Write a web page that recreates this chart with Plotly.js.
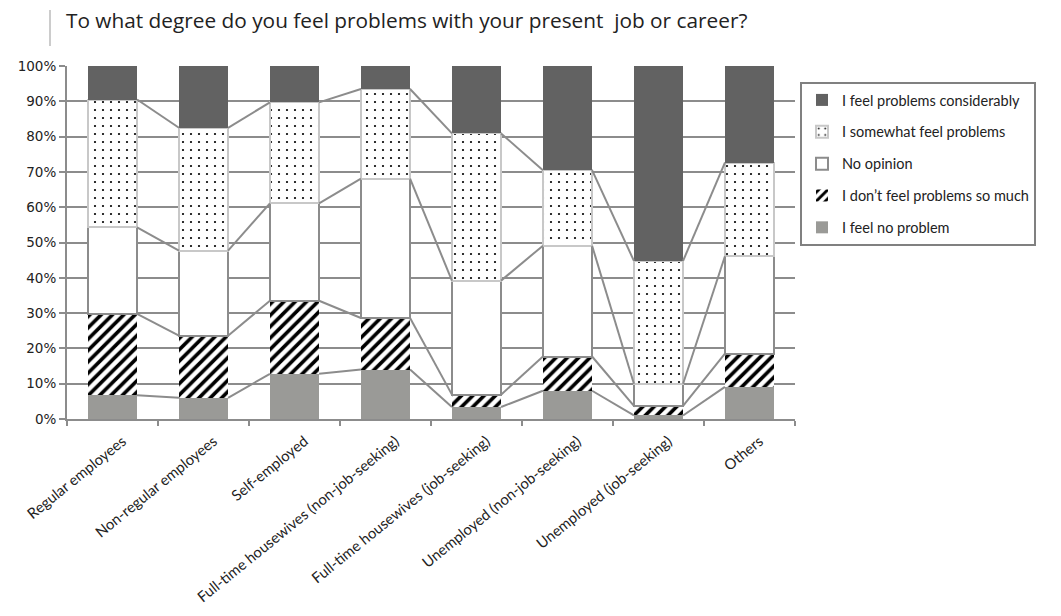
<!DOCTYPE html>
<html>
<head>
<meta charset="utf-8">
<script src="https://cdn.plot.ly/plotly-3.0.1.min.js"></script>
<style>html,body{margin:0;padding:0;background:#fff;}#chart{width:1061px;height:616px;}</style>
</head>
<body>
<div id="chart"></div>
<script>
// ---- data (percent) ----
const categories = ["Regular employees", "Non-regular employees", "Self-employed",
  "Full-time housewives (non-job-seeking)", "Full-time housewives (job-seeking)",
  "Unemployed (non-job-seeking)", "Unemployed (job-seeking)", "Others"];
const seriesNames = ["I feel no problem", "I don\u2019t feel problems so much", "No opinion",
  "I somewhat feel problems", "I feel problems considerably"];
const noProblem    = [6.7, 6.0, 12.8, 14.0, 3.4, 8.0, 1.0, 9.1];
const notMuch      = [23.1, 17.6, 20.7, 14.6, 3.5, 9.7, 2.7, 9.4];
const noOpinion    = [24.5, 24.1, 27.6, 39.5, 32.3, 31.4, 6.3, 27.6];
const somewhat     = [36.2, 34.8, 28.6, 25.4, 41.7, 21.4, 34.8, 26.5];
const considerably = [9.5, 17.5, 10.3, 6.5, 19.1, 29.5, 55.2, 27.4];
const yTicks = [0, 10, 20, 30, 40, 50, 60, 70, 80, 90, 100];

const seriesValues = [noProblem, notMuch, noOpinion, somewhat, considerably];
const barWidth = 0.54;
const gridGray = '#8c8c8c';

const styles = [
  {color: '#9a9a97', line: {width: 0}},
  {color: '#ffffff', line: {width: 0}, pattern: {shape: '/', fgcolor: '#000000', bgcolor: '#ffffff', size: 8, solidity: 0.45}},
  {color: '#ffffff', line: {width: 2, color: gridGray}},
  {color: '#ffffff', line: {width: 2, color: '#c8c8c8'}, pattern: {shape: '.', fgcolor: '#000000', bgcolor: '#ffffff', size: 8, solidity: 0.06}},
  {color: '#626262', line: {width: 0}}
];

const traces = seriesValues.map((vals, k) => ({
  type: 'bar',
  name: seriesNames[k],
  x: categories,
  y: vals,
  width: barWidth,
  marker: styles[k],
  legendgroup: 'g' + k,
  legendrank: seriesValues.length - k,
  hoverinfo: 'name+y'
}));

// series lines connecting segment tops between neighbouring bars
const cum = [];
let run = categories.map(() => 0);
seriesValues.forEach(vals => {
  run = run.map((r, i) => r + vals[i]);
  cum.push(run.slice());
});
cum.slice(0, 4).forEach(level => {
  const xs = [], ys = [];
  for (let i = 0; i < categories.length - 1; i++) {
    xs.push(i + barWidth / 2, i + 1 - barWidth / 2, null);
    ys.push(level[i], level[i + 1], null);
  }
  traces.push({
    type: 'scatter', mode: 'lines', x: xs, y: ys, xaxis: 'x2',
    line: {color: gridGray, width: 2}, showlegend: false, hoverinfo: 'skip'
  });
});

const layout = {
  width: 1061, height: 616,
  margin: {l: 67, r: 266, t: 66, b: 197},
  paper_bgcolor: '#ffffff', plot_bgcolor: '#ffffff',
  barmode: 'stack', bargap: 0.46,
  font: {family: 'Lato, sans-serif', color: '#222'},
  title: {
    text: 'To what degree do you feel problems with your present  job or career?',
    xref: 'container', x: 66 / 1061, xanchor: 'left',
    yref: 'container', y: 1 - 21 / 616, yanchor: 'middle',
    font: {family: 'Open Sans, sans-serif', size: 20.8, color: '#222'}
  },
  xaxis: {
    type: 'category', range: [-0.5, 7.5],
    tickson: 'boundaries', ticks: 'outside', ticklen: 5, tickwidth: 2, tickcolor: gridGray,
    showline: true, linecolor: gridGray, linewidth: 2,
    showgrid: false, tickangle: -39, ticklabelshift: 10, ticklabelstandoff: 6,
    tickfont: {family: 'Lato, sans-serif', size: 14.8, color: '#222'},
    fixedrange: true
  },
  xaxis2: {overlaying: 'x', range: [-0.5, 7.5], visible: false, fixedrange: true},
  yaxis: {
    range: [0, 100], tickvals: yTicks, ticktext: yTicks.map(v => v + '%'),
    ticks: 'outside', ticklen: 6, tickwidth: 2, tickcolor: gridGray,
    showline: true, linecolor: gridGray, linewidth: 2,
    showgrid: true, gridcolor: gridGray, gridwidth: 2,
    zeroline: false,
    tickfont: {family: 'DejaVu Sans, sans-serif', size: 13.5, color: '#222'},
    fixedrange: true
  },
  legend: {
    x: (800 - 67) / 728, xanchor: 'left', y: (419 - 82) / 353, yanchor: 'top',
    traceorder: 'grouped', tracegroupgap: 10, entrywidth: 275,
    bordercolor: '#808080', borderwidth: 2, bgcolor: '#ffffff',
    font: {family: 'Lato, sans-serif', size: 14.5, color: '#222'}
  },
  shapes: [{
    type: 'line', xref: 'paper', yref: 'paper',
    x0: (50 - 67) / 728, x1: (50 - 67) / 728, y0: (419 - 10) / 353, y1: (419 - 46) / 353,
    line: {color: '#999', width: 1}
  }],
  showlegend: true
};

Plotly.newPlot('chart', traces, layout, {displayModeBar: false, staticPlot: true});
</script>
</body>
</html>
